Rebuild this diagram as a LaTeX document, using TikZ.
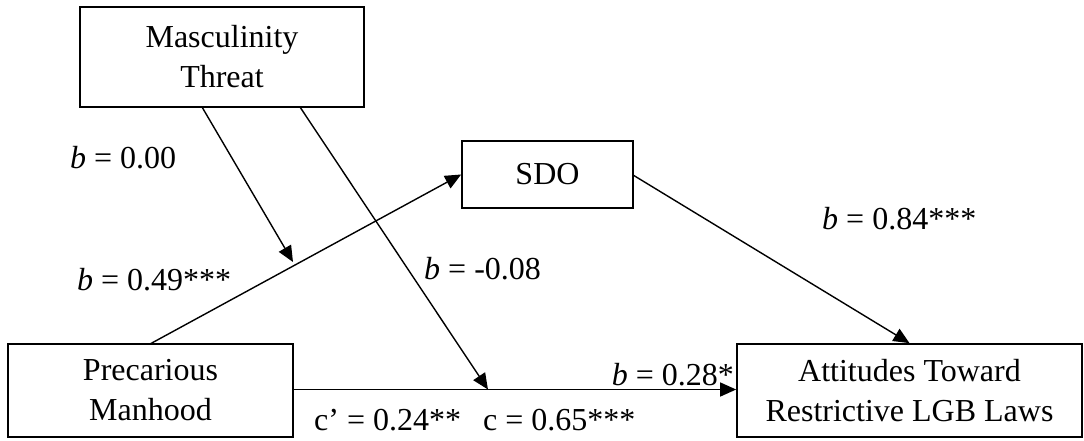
\documentclass[tikz,border=0pt]{standalone}
\usepackage{fontspec}
\setmainfont{Liberation Serif}
\usetikzlibrary{arrows.meta}
\begin{document}
\begin{tikzpicture}[x=1pt,y=-1pt,
  font=\fontsize{32}{40}\selectfont,
  varbox/.style={draw,line width=1.7pt,inner sep=0pt,align=center},
  path/.style={line width=1.4pt,-{Triangle[length=16pt,width=14pt]}},
  coef/.style={inner sep=0pt}]
\useasboundingbox (0,0) rectangle (1084,440);

% variables
\node[varbox,minimum width=284pt,minimum height=100pt] (mt) at (222,57) {Masculinity\\Threat};
\node[varbox,minimum width=171pt,minimum height=67pt] (sdo) at (547.5,174.5) {SDO};
\node[varbox,minimum width=285pt,minimum height=93pt] (pm) at (150.5,390.5) {Precarious\\Manhood};
\node[varbox,minimum width=345pt,minimum height=93pt] (att) at (909.5,390.5) {Attitudes Toward\\Restrictive LGB Laws};

% end points of the interaction arrows
\coordinate (mtA) at (202,107);
\coordinate (mtC) at (300,107);
\coordinate (onA) at (293,262);
\coordinate (pmTop) at (150,344);
\coordinate (onC) at (488,389.5);
\coordinate (sdoOut) at (633,175);

% paths
\draw[path] (pmTop) -- (sdo.west);
\draw[path] (sdoOut) -- (att.north);
\draw[path] (pm.east |- onC) -- (att.west |- onC);
\draw[path] (mtA) -- (onA);
\draw[path] (mtC) -- (onC);

% coefficients
\node[coef,anchor=base west] (l1) at (70,168) {\textit{b} = 0.00};
\node[coef,anchor=base west] (l2) at (77,290) {\textit{b} = 0.49***};
\node[coef,anchor=base west] (l3) at (424,279) {\textit{b} = -0.08};
\node[coef,anchor=base west] (l4) at (822,229) {\textit{b} = 0.84***};
\node[coef,anchor=base east] (l5) at (734,385) {\textit{b} = 0.28*};
\node[coef,anchor=base west] (l6) at (314,430) {c’ = 0.24**\hspace{22pt}c = 0.65***};
\end{tikzpicture}
\end{document}
